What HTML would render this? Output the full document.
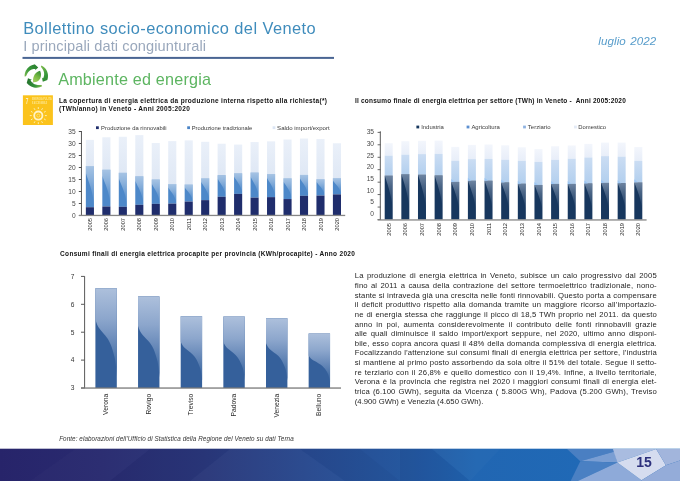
<!DOCTYPE html>
<html lang="it">
<head>
<meta charset="utf-8">
<title>Bollettino socio-economico del Veneto - Ambiente ed energia</title>
<style>
html,body{margin:0;padding:0;background:#fff;}
body{width:680px;height:481px;overflow:hidden;font-family:"Liberation Sans",sans-serif;}
#page{position:relative;width:680px;height:481px;overflow:hidden;background:transparent;will-change:transform;filter:brightness(1.0001);}
#page svg{position:absolute;left:0;top:0;}
svg text{font-family:"Liberation Sans",sans-serif;}
.t{position:absolute;white-space:nowrap;line-height:1;}
#title{left:23.2px;top:19.5px;font-size:16.4px;color:#3f8cbc;letter-spacing:0.43px;}
#subtitle{left:23.3px;top:39.2px;font-size:14.6px;color:#9aa8bc;letter-spacing:0.09px;}
#date{left:598.3px;top:35.2px;font-size:11.6px;font-style:italic;color:#589dcb;letter-spacing:0.08px;word-spacing:1px;}
#section{left:58.2px;top:71px;font-size:16.2px;color:#5db561;letter-spacing:0.19px;}
.ct{font-size:6.5px;font-weight:700;color:#111;line-height:7.9px;white-space:nowrap;position:absolute;}
#ct1{left:59px;top:96.6px;letter-spacing:0.32px;}
#ct2{left:355px;top:96.7px;letter-spacing:0.21px;}
#ct3{left:60.1px;top:249.5px;letter-spacing:0.31px;}
#fonte{left:59.2px;top:436.1px;font-size:6.3px;font-style:italic;color:#333;letter-spacing:0.08px;}
#para{position:absolute;left:354.8px;top:271.4px;width:302px;letter-spacing:0.12px;font-size:7.7px;line-height:9.64px;color:#1f1f1f;}
#para .ln{text-align:justify;text-align-last:justify;white-space:nowrap;height:9.64px;}
#para .ln.last{text-align-last:left;letter-spacing:0.01px;}
#pnum{left:636.2px;top:454.6px;font-size:14px;font-weight:700;color:#2b2f7c;letter-spacing:0.1px;}
</style>
</head>
<body>
<div id="page">
<svg width="680" height="481" viewBox="0 0 680 481">
<defs>
<linearGradient id="gTrad" x1="0" y1="0" x2="0" y2="1"><stop offset="0" stop-color="#9dbbe0"/><stop offset="0.45" stop-color="#5e92cd"/><stop offset="1" stop-color="#4a84c6"/></linearGradient>
<linearGradient id="gGloss1" x1="0" y1="0" x2="0" y2="1"><stop offset="0" stop-color="#fff" stop-opacity="0.5"/><stop offset="0.3" stop-color="#fff" stop-opacity="0.36"/><stop offset="0.65" stop-color="#fff" stop-opacity="0.17"/><stop offset="1" stop-color="#fff" stop-opacity="0.04"/></linearGradient>
<linearGradient id="gSaldo" x1="0" y1="0" x2="0" y2="1"><stop offset="0" stop-color="#eaf0f9"/><stop offset="1" stop-color="#dfe8f5"/></linearGradient>
<linearGradient id="gTerz" x1="0" y1="0" x2="0" y2="1"><stop offset="0" stop-color="#cbddf3"/><stop offset="1" stop-color="#b2cfee"/></linearGradient>
<linearGradient id="gGloss2" x1="0" y1="0" x2="0" y2="1"><stop offset="0" stop-color="#c4d2e6" stop-opacity="0.5"/><stop offset="0.3" stop-color="#c4d2e6" stop-opacity="0.3"/><stop offset="0.7" stop-color="#c4d2e6" stop-opacity="0.12"/><stop offset="1" stop-color="#c4d2e6" stop-opacity="0.0"/></linearGradient>
<linearGradient id="gDom" x1="0" y1="0" x2="0" y2="1"><stop offset="0" stop-color="#f3f6fc"/><stop offset="1" stop-color="#e8eef9"/></linearGradient>
<linearGradient id="gGloss3" x1="0" y1="0" x2="0" y2="1"><stop offset="0" stop-color="#adc0dc"/><stop offset="0.35" stop-color="#8ca6cc"/><stop offset="0.6" stop-color="#6a8bba"/><stop offset="0.8" stop-color="#4e76ab"/><stop offset="1" stop-color="#3a649e"/></linearGradient>
<linearGradient id="gFoot" x1="0" y1="0" x2="1" y2="0"><stop offset="0" stop-color="#27246a"/><stop offset="0.15" stop-color="#292b70"/><stop offset="0.3" stop-color="#2a387a"/><stop offset="0.45" stop-color="#28498e"/><stop offset="0.6" stop-color="#25589f"/><stop offset="0.7" stop-color="#2166b2"/><stop offset="0.85" stop-color="#2069b6"/><stop offset="1" stop-color="#2069b6"/></linearGradient>
<radialGradient id="gLeaf" cx="0.5" cy="0.5" r="0.6"><stop offset="0" stop-color="#a5d66a"/><stop offset="1" stop-color="#3f9a3a"/></radialGradient>
</defs>
<rect x="22.5" y="56.9" width="311.5" height="2" fill="#4a6593"/>
<g id="eco">
<linearGradient id="gA1" gradientUnits="userSpaceOnUse" x1="24" y1="78" x2="38" y2="64"><stop offset="0" stop-color="#8cc152"/><stop offset="0.45" stop-color="#3b9a3c"/><stop offset="1" stop-color="#257a2c"/></linearGradient>
<linearGradient id="gA2" gradientUnits="userSpaceOnUse" x1="41" y1="66" x2="45" y2="84"><stop offset="0" stop-color="#7dba4c"/><stop offset="0.45" stop-color="#3b9a3c"/><stop offset="1" stop-color="#2a8430"/></linearGradient>
<linearGradient id="gA3" gradientUnits="userSpaceOnUse" x1="42" y1="85" x2="26" y2="80"><stop offset="0" stop-color="#7dba4c"/><stop offset="0.4" stop-color="#32913a"/><stop offset="1" stop-color="#236f2b"/></linearGradient>
<linearGradient id="gLeaf2" gradientUnits="userSpaceOnUse" x1="33" y1="82" x2="40.5" y2="71"><stop offset="0" stop-color="#a9d564"/><stop offset="0.5" stop-color="#78b943"/><stop offset="1" stop-color="#2e8a34"/></linearGradient>
<path d="M24.61 76.41 L24.64 74.98 L24.86 73.57 L25.24 72.19 L25.78 70.87 L26.49 69.63 L27.34 68.48 L28.32 67.44 L29.42 66.53 L30.63 65.77 L31.92 65.15 L33.27 64.7 L34.67 64.41 L34.15 63.79 L38.23 67.62 L35.09 70.33 L35.31 68.97 L34.41 68.95 L33.49 69.05 L32.57 69.26 L31.65 69.6 L30.75 70.05 L29.89 70.62 L29.08 71.31 L28.33 72.11 L27.65 73.02 L27.05 74.03 L26.52 75.14 L25.91 76.36 Z" fill="url(#gA1)"/>
<path d="M41.43 65.48 L42.67 66.19 L43.82 67.04 L44.86 68.02 L45.77 69.12 L46.53 70.33 L47.15 71.62 L47.6 72.97 L47.89 74.37 L48 75.8 L47.94 77.22 L47.7 78.63 L47.29 80 L48.09 79.83 L42.79 81.64 L41.88 77.6 L42.97 78.43 L43.41 77.64 L43.75 76.78 L44 75.87 L44.14 74.9 L44.16 73.89 L44.06 72.87 L43.83 71.82 L43.48 70.79 L42.99 69.76 L42.38 68.75 L41.65 67.76 L40.86 66.65 Z" fill="url(#gA2)"/>
<path d="M42.15 86.13 L40.87 86.77 L39.52 87.25 L38.13 87.56 L36.71 87.69 L35.28 87.66 L33.87 87.44 L32.49 87.06 L31.17 86.52 L29.93 85.81 L28.78 84.96 L27.74 83.98 L26.83 82.88 L26.53 83.63 L27.99 78.23 L31.86 79.73 L30.56 80.17 L30.96 80.98 L31.48 81.74 L32.11 82.46 L32.83 83.11 L33.65 83.69 L34.56 84.19 L35.55 84.58 L36.61 84.87 L37.73 85.04 L38.91 85.09 L40.14 85.04 L41.5 85.01 Z" fill="url(#gA3)"/>
<path d="M33.1 82.1 C32.3 75.6 36.2 71.6 40.1 70.7 C42.6 76.4 39.8 82.6 33.1 82.1 Z" fill="url(#gLeaf2)"/>
<path d="M33.6 81.6 L32.2 83.3" stroke="#8a9a7a" stroke-width="0.7" fill="none"/>
</g>
<g id="sdg7">
<rect x="22.9" y="95.3" width="30" height="29.7" fill="#fbc31c"/>
<text x="25.7" y="104.4" font-size="8.4" font-weight="700" fill="#fdf0c2" textLength="2.6" lengthAdjust="spacingAndGlyphs">7</text>
<text x="32" y="100.4" font-size="2.8" font-weight="700" fill="#fde58c" textLength="19.6" lengthAdjust="spacingAndGlyphs">ENERGIA PULITA</text>
<text x="32" y="104.1" font-size="2.8" font-weight="700" fill="#fde58c" textLength="15" lengthAdjust="spacingAndGlyphs">E ACCESSIBILE</text>
<circle cx="38.3" cy="115.6" r="4.1" fill="none" stroke="#fff3c6" stroke-width="1.8"/>
<circle cx="38.3" cy="115.6" r="1.5" fill="none" stroke="#fde9a0" stroke-width="0.6"/>
<line x1="44.9" y1="115.6" x2="46.8" y2="115.6" stroke="#fdeeb4" stroke-width="1"/>
<line x1="44.02" y1="118.9" x2="45.66" y2="119.85" stroke="#fdeeb4" stroke-width="1"/>
<line x1="41.6" y1="121.32" x2="42.55" y2="122.96" stroke="#fdeeb4" stroke-width="1"/>
<line x1="38.3" y1="122.2" x2="38.3" y2="124.1" stroke="#fdeeb4" stroke-width="1"/>
<line x1="35" y1="121.32" x2="34.05" y2="122.96" stroke="#fdeeb4" stroke-width="1"/>
<line x1="32.58" y1="118.9" x2="30.94" y2="119.85" stroke="#fdeeb4" stroke-width="1"/>
<line x1="31.7" y1="115.6" x2="29.8" y2="115.6" stroke="#fdeeb4" stroke-width="1"/>
<line x1="32.58" y1="112.3" x2="30.94" y2="111.35" stroke="#fdeeb4" stroke-width="1"/>
<line x1="35" y1="109.88" x2="34.05" y2="108.24" stroke="#fdeeb4" stroke-width="1"/>
<line x1="38.3" y1="109" x2="38.3" y2="107.1" stroke="#fdeeb4" stroke-width="1"/>
<line x1="41.6" y1="109.88" x2="42.55" y2="108.24" stroke="#fdeeb4" stroke-width="1"/>
<line x1="44.02" y1="112.3" x2="45.66" y2="111.35" stroke="#fdeeb4" stroke-width="1"/>
</g>
<g id="chart1" font-size="5.7" fill="#333">
<rect x="96" y="126.3" width="2.8" height="2.8" fill="#1f2d6c"/>
<text x="101.1" y="129.8" font-size="5.6" fill="#3a3a3a" textLength="65.5" lengthAdjust="spacingAndGlyphs">Produzione da rinnovabili</text>
<rect x="187.2" y="126.3" width="2.8" height="2.8" fill="#4a84c6"/>
<text x="191.7" y="129.8" font-size="5.6" fill="#3a3a3a" textLength="60.6" lengthAdjust="spacingAndGlyphs">Produzione tradizionale</text>
<rect x="272.6" y="126.3" width="2.8" height="2.8" fill="#dbe5f4"/>
<text x="277.1" y="129.8" font-size="5.6" fill="#3a3a3a" textLength="52.5" lengthAdjust="spacingAndGlyphs">Saldo import/export</text>
<rect x="85.85" y="139.9" width="8.1" height="26.16" fill="url(#gSaldo)"/>
<rect x="85.85" y="166.06" width="8.1" height="41.16" fill="#4d88c9"/>
<path d="M85.85 166.06 L93.95 166.06 L93.95 203.93 C92.33 188.7 88.68 182.52 85.85 173.06 Z" fill="url(#gGloss1)"/>
<rect x="85.85" y="207.22" width="8.1" height="8.28" fill="#1f2d6c"/>
<rect x="102.32" y="137.26" width="8.1" height="32.47" fill="url(#gSaldo)"/>
<rect x="102.32" y="169.73" width="8.1" height="36.77" fill="#4d88c9"/>
<path d="M102.32 169.73 L110.42 169.73 L110.42 203.56 C108.8 189.95 105.15 184.44 102.32 175.98 Z" fill="url(#gGloss1)"/>
<rect x="102.32" y="206.5" width="8.1" height="9" fill="#1f2d6c"/>
<rect x="118.79" y="136.78" width="8.1" height="36" fill="url(#gSaldo)"/>
<rect x="118.79" y="172.78" width="8.1" height="34.03" fill="#4d88c9"/>
<path d="M118.79 172.78 L126.89 172.78 L126.89 204.09 C125.27 191.5 121.62 186.39 118.79 178.57 Z" fill="url(#gGloss1)"/>
<rect x="118.79" y="206.81" width="8.1" height="8.69" fill="#1f2d6c"/>
<rect x="135.26" y="135.1" width="8.1" height="41.16" fill="url(#gSaldo)"/>
<rect x="135.26" y="176.26" width="8.1" height="28.56" fill="#4d88c9"/>
<path d="M135.26 176.26 L143.36 176.26 L143.36 202.54 C141.74 191.97 138.09 187.68 135.26 181.12 Z" fill="url(#gGloss1)"/>
<rect x="135.26" y="204.82" width="8.1" height="10.68" fill="#1f2d6c"/>
<rect x="151.73" y="143.02" width="8.1" height="36.48" fill="url(#gSaldo)"/>
<rect x="151.73" y="179.5" width="8.1" height="24.36" fill="#4d88c9"/>
<path d="M151.73 179.5 L159.83 179.5 L159.83 201.91 C158.21 192.9 154.56 189.24 151.73 183.64 Z" fill="url(#gGloss1)"/>
<rect x="151.73" y="203.86" width="8.1" height="11.64" fill="#1f2d6c"/>
<rect x="168.2" y="141.1" width="8.1" height="42.96" fill="url(#gSaldo)"/>
<rect x="168.2" y="184.06" width="8.1" height="19.56" fill="#4d88c9"/>
<path d="M168.2 184.06 L176.3 184.06 L176.3 202.06 C174.68 194.82 171.03 191.88 168.2 187.39 Z" fill="url(#gGloss1)"/>
<rect x="168.2" y="203.62" width="8.1" height="11.88" fill="#1f2d6c"/>
<rect x="184.67" y="140.38" width="8.1" height="44.16" fill="url(#gSaldo)"/>
<rect x="184.67" y="184.54" width="8.1" height="17.04" fill="#4d88c9"/>
<path d="M184.67 184.54 L192.77 184.54 L192.77 200.22 C191.15 193.91 187.5 191.36 184.67 187.44 Z" fill="url(#gGloss1)"/>
<rect x="184.67" y="201.58" width="8.1" height="13.92" fill="#1f2d6c"/>
<rect x="201.14" y="141.82" width="8.1" height="36.48" fill="url(#gSaldo)"/>
<rect x="201.14" y="178.3" width="8.1" height="21.84" fill="#4d88c9"/>
<path d="M201.14 178.3 L209.24 178.3 L209.24 198.39 C207.62 190.31 203.97 187.04 201.14 182.01 Z" fill="url(#gGloss1)"/>
<rect x="201.14" y="200.14" width="8.1" height="15.36" fill="#1f2d6c"/>
<rect x="217.61" y="143.74" width="8.1" height="31.44" fill="url(#gSaldo)"/>
<rect x="217.61" y="175.18" width="8.1" height="21.6" fill="#4d88c9"/>
<path d="M217.61 175.18 L225.71 175.18 L225.71 195.05 C224.09 187.06 220.44 183.82 217.61 178.85 Z" fill="url(#gGloss1)"/>
<rect x="217.61" y="196.78" width="8.1" height="18.72" fill="#1f2d6c"/>
<rect x="234.08" y="144.58" width="8.1" height="28.68" fill="url(#gSaldo)"/>
<rect x="234.08" y="173.26" width="8.1" height="20.64" fill="#4d88c9"/>
<path d="M234.08 173.26 L242.18 173.26 L242.18 192.25 C240.56 184.61 236.91 181.52 234.08 176.77 Z" fill="url(#gGloss1)"/>
<rect x="234.08" y="193.9" width="8.1" height="21.6" fill="#1f2d6c"/>
<rect x="250.55" y="142.06" width="8.1" height="30.48" fill="url(#gSaldo)"/>
<rect x="250.55" y="172.54" width="8.1" height="25.08" fill="#4d88c9"/>
<path d="M250.55 172.54 L258.65 172.54 L258.65 195.61 C257.03 186.33 253.38 182.57 250.55 176.8 Z" fill="url(#gGloss1)"/>
<rect x="250.55" y="197.62" width="8.1" height="17.88" fill="#1f2d6c"/>
<rect x="267.02" y="141.34" width="8.1" height="32.88" fill="url(#gSaldo)"/>
<rect x="267.02" y="174.22" width="8.1" height="22.92" fill="#4d88c9"/>
<path d="M267.02 174.22 L275.12 174.22 L275.12 195.31 C273.5 186.83 269.85 183.39 267.02 178.12 Z" fill="url(#gGloss1)"/>
<rect x="267.02" y="197.14" width="8.1" height="18.36" fill="#1f2d6c"/>
<rect x="283.49" y="139.54" width="8.1" height="38.76" fill="url(#gSaldo)"/>
<rect x="283.49" y="178.3" width="8.1" height="20.76" fill="#4d88c9"/>
<path d="M283.49 178.3 L291.59 178.3 L291.59 197.4 C289.97 189.72 286.32 186.6 283.49 181.83 Z" fill="url(#gGloss1)"/>
<rect x="283.49" y="199.06" width="8.1" height="16.44" fill="#1f2d6c"/>
<rect x="299.96" y="138.53" width="8.1" height="36.41" fill="url(#gSaldo)"/>
<rect x="299.96" y="174.94" width="8.1" height="20.88" fill="#4d88c9"/>
<path d="M299.96 174.94 L308.06 174.94 L308.06 194.15 C306.44 186.42 302.79 183.29 299.96 178.49 Z" fill="url(#gGloss1)"/>
<rect x="299.96" y="195.82" width="8.1" height="19.68" fill="#1f2d6c"/>
<rect x="316.43" y="139.04" width="8.1" height="40.22" fill="url(#gSaldo)"/>
<rect x="316.43" y="179.26" width="8.1" height="16.32" fill="#4d88c9"/>
<path d="M316.43 179.26 L324.53 179.26 L324.53 194.27 C322.91 188.24 319.26 185.79 316.43 182.03 Z" fill="url(#gGloss1)"/>
<rect x="316.43" y="195.58" width="8.1" height="19.92" fill="#1f2d6c"/>
<rect x="332.9" y="143.26" width="8.1" height="34.8" fill="url(#gSaldo)"/>
<rect x="332.9" y="178.06" width="8.1" height="16.32" fill="#4d88c9"/>
<path d="M332.9 178.06 L341 178.06 L341 193.07 C339.38 187.04 335.73 184.59 332.9 180.83 Z" fill="url(#gGloss1)"/>
<rect x="332.9" y="194.38" width="8.1" height="21.12" fill="#1f2d6c"/>
<rect x="80.95" y="131" width="1" height="85" fill="#555"/>
<rect x="78.8" y="215" width="2.6" height="1" fill="#4d4d4d"/>
<text x="75.6" y="217.8" text-anchor="end" font-size="6.6" fill="#484848">0</text>
<rect x="78.8" y="203" width="2.6" height="1" fill="#4d4d4d"/>
<text x="75.6" y="205.8" text-anchor="end" font-size="6.6" fill="#484848">5</text>
<rect x="78.8" y="191" width="2.6" height="1" fill="#4d4d4d"/>
<text x="75.6" y="193.8" text-anchor="end" font-size="6.6" fill="#484848">10</text>
<rect x="78.8" y="179" width="2.6" height="1" fill="#4d4d4d"/>
<text x="75.6" y="181.8" text-anchor="end" font-size="6.6" fill="#484848">15</text>
<rect x="78.8" y="167" width="2.6" height="1" fill="#4d4d4d"/>
<text x="75.6" y="169.8" text-anchor="end" font-size="6.6" fill="#484848">20</text>
<rect x="78.8" y="155" width="2.6" height="1" fill="#4d4d4d"/>
<text x="75.6" y="157.8" text-anchor="end" font-size="6.6" fill="#484848">25</text>
<rect x="78.8" y="143" width="2.6" height="1" fill="#4d4d4d"/>
<text x="75.6" y="145.8" text-anchor="end" font-size="6.6" fill="#484848">30</text>
<rect x="78.8" y="131" width="2.6" height="1" fill="#4d4d4d"/>
<text x="75.6" y="133.8" text-anchor="end" font-size="6.6" fill="#484848">35</text>
<rect x="79" y="214.8" width="266.2" height="1.3" fill="#868686"/>
<text transform="translate(91.95 218) rotate(-90)" text-anchor="end" fill="#262626">2005</text>
<text transform="translate(108.42 218) rotate(-90)" text-anchor="end" fill="#262626">2006</text>
<text transform="translate(124.89 218) rotate(-90)" text-anchor="end" fill="#262626">2007</text>
<text transform="translate(141.36 218) rotate(-90)" text-anchor="end" fill="#262626">2008</text>
<text transform="translate(157.83 218) rotate(-90)" text-anchor="end" fill="#262626">2009</text>
<text transform="translate(174.3 218) rotate(-90)" text-anchor="end" fill="#262626">2010</text>
<text transform="translate(190.77 218) rotate(-90)" text-anchor="end" fill="#262626">2011</text>
<text transform="translate(207.24 218) rotate(-90)" text-anchor="end" fill="#262626">2012</text>
<text transform="translate(223.71 218) rotate(-90)" text-anchor="end" fill="#262626">2013</text>
<text transform="translate(240.18 218) rotate(-90)" text-anchor="end" fill="#262626">2014</text>
<text transform="translate(256.65 218) rotate(-90)" text-anchor="end" fill="#262626">2015</text>
<text transform="translate(273.12 218) rotate(-90)" text-anchor="end" fill="#262626">2016</text>
<text transform="translate(289.59 218) rotate(-90)" text-anchor="end" fill="#262626">2017</text>
<text transform="translate(306.06 218) rotate(-90)" text-anchor="end" fill="#262626">2018</text>
<text transform="translate(322.53 218) rotate(-90)" text-anchor="end" fill="#262626">2019</text>
<text transform="translate(339 218) rotate(-90)" text-anchor="end" fill="#262626">2020</text>
</g>
<g id="chart2" font-size="5.7" fill="#333">
<rect x="416.4" y="125.6" width="2.8" height="2.8" fill="#17375e"/>
<text x="421.2" y="128.9" font-size="5.6" fill="#3a3a3a" textLength="22.7" lengthAdjust="spacingAndGlyphs">Industria</text>
<rect x="466.6" y="125.6" width="2.8" height="2.8" fill="#5b8fd0"/>
<text x="471.4" y="128.9" font-size="5.6" fill="#3a3a3a" textLength="28.5" lengthAdjust="spacingAndGlyphs">Agricoltura</text>
<rect x="523.1" y="125.6" width="2.8" height="2.8" fill="#8fb3e2"/>
<text x="527.8" y="128.9" font-size="5.6" fill="#3a3a3a" textLength="22.7" lengthAdjust="spacingAndGlyphs">Terziario</text>
<rect x="574" y="125.6" width="2.8" height="2.8" fill="#e3eaf6"/>
<text x="578.3" y="128.9" font-size="5.6" fill="#3a3a3a" textLength="27.8" lengthAdjust="spacingAndGlyphs">Domestico</text>
<rect x="384.7" y="143.2" width="8.0" height="12.4" fill="url(#gDom)"/>
<rect x="384.7" y="155.6" width="8.0" height="20" fill="url(#gTerz)"/>
<rect x="384.7" y="175.6" width="8.0" height="43.9" fill="#17375e"/>
<path d="M384.7 175.6 L392.7 175.6 L392.7 210.72 C392.3 199.75 389.5 190.09 384.7 175.6 Z" fill="url(#gGloss2)"/>
<rect x="401.34" y="141.2" width="8.0" height="13.4" fill="url(#gDom)"/>
<rect x="401.34" y="154.6" width="8.0" height="19.5" fill="url(#gTerz)"/>
<rect x="401.34" y="174.1" width="8.0" height="45.4" fill="#17375e"/>
<path d="M401.34 174.1 L409.34 174.1 L409.34 210.42 C408.94 199.07 406.14 189.08 401.34 174.1 Z" fill="url(#gGloss2)"/>
<rect x="417.98" y="140.8" width="8.0" height="13.3" fill="url(#gDom)"/>
<rect x="417.98" y="154.1" width="8.0" height="20.6" fill="url(#gTerz)"/>
<rect x="417.98" y="174.7" width="8.0" height="44.8" fill="#17375e"/>
<path d="M417.98 174.7 L425.98 174.7 L425.98 210.54 C425.58 199.34 422.78 189.48 417.98 174.7 Z" fill="url(#gGloss2)"/>
<rect x="434.62" y="140.6" width="8.0" height="13.3" fill="url(#gDom)"/>
<rect x="434.62" y="153.9" width="8.0" height="21.5" fill="url(#gTerz)"/>
<rect x="434.62" y="175.4" width="8.0" height="44.1" fill="#17375e"/>
<path d="M434.62 175.4 L442.62 175.4 L442.62 210.68 C442.22 199.66 439.42 189.95 434.62 175.4 Z" fill="url(#gGloss2)"/>
<rect x="451.26" y="146.9" width="8.0" height="13.8" fill="url(#gDom)"/>
<rect x="451.26" y="160.7" width="8.0" height="21.2" fill="url(#gTerz)"/>
<rect x="451.26" y="181.9" width="8.0" height="37.6" fill="#17375e"/>
<path d="M451.26 181.9 L459.26 181.9 L459.26 211.98 C458.86 202.58 456.06 194.31 451.26 181.9 Z" fill="url(#gGloss2)"/>
<path d="M451.26 178.9 L454.86 181.9 L451.26 181.9 Z" fill="#9cc6f3"/>
<rect x="467.9" y="144.9" width="8.0" height="14.2" fill="url(#gDom)"/>
<rect x="467.9" y="159.1" width="8.0" height="21.6" fill="url(#gTerz)"/>
<rect x="467.9" y="180.7" width="8.0" height="38.8" fill="#17375e"/>
<path d="M467.9 180.7 L475.9 180.7 L475.9 211.74 C475.5 202.04 472.7 193.5 467.9 180.7 Z" fill="url(#gGloss2)"/>
<path d="M467.9 177.7 L471.5 180.7 L467.9 180.7 Z" fill="#9cc6f3"/>
<rect x="484.54" y="144.5" width="8.0" height="14.4" fill="url(#gDom)"/>
<rect x="484.54" y="158.9" width="8.0" height="21.8" fill="url(#gTerz)"/>
<rect x="484.54" y="180.7" width="8.0" height="38.8" fill="#17375e"/>
<path d="M484.54 180.7 L492.54 180.7 L492.54 211.74 C492.14 202.04 489.34 193.5 484.54 180.7 Z" fill="url(#gGloss2)"/>
<path d="M484.54 177.7 L488.14 180.7 L484.54 180.7 Z" fill="#9cc6f3"/>
<rect x="501.18" y="145.3" width="8.0" height="14.4" fill="url(#gDom)"/>
<rect x="501.18" y="159.7" width="8.0" height="22.7" fill="url(#gTerz)"/>
<rect x="501.18" y="182.4" width="8.0" height="37.1" fill="#17375e"/>
<path d="M501.18 182.4 L509.18 182.4 L509.18 212.08 C508.78 202.81 505.98 194.64 501.18 182.4 Z" fill="url(#gGloss2)"/>
<path d="M501.18 179.4 L504.78 182.4 L501.18 182.4 Z" fill="#9cc6f3"/>
<rect x="517.82" y="147.29" width="8.0" height="13.51" fill="url(#gDom)"/>
<rect x="517.82" y="160.8" width="8.0" height="22.87" fill="url(#gTerz)"/>
<rect x="517.82" y="183.67" width="8.0" height="35.83" fill="#17375e"/>
<path d="M517.82 183.67 L525.82 183.67 L525.82 212.33 C525.42 203.38 522.62 195.49 517.82 183.67 Z" fill="url(#gGloss2)"/>
<path d="M517.82 180.67 L521.42 183.67 L517.82 183.67 Z" fill="#9cc6f3"/>
<rect x="534.46" y="149.11" width="8.0" height="12.73" fill="url(#gDom)"/>
<rect x="534.46" y="161.84" width="8.0" height="23.13" fill="url(#gTerz)"/>
<rect x="534.46" y="184.97" width="8.0" height="34.53" fill="#17375e"/>
<path d="M534.46 184.97 L542.46 184.97 L542.46 212.59 C542.06 203.96 539.26 196.36 534.46 184.97 Z" fill="url(#gGloss2)"/>
<path d="M534.46 181.97 L538.06 184.97 L534.46 184.97 Z" fill="#9cc6f3"/>
<rect x="551.1" y="146.25" width="8.0" height="13.51" fill="url(#gDom)"/>
<rect x="551.1" y="159.76" width="8.0" height="24.17" fill="url(#gTerz)"/>
<rect x="551.1" y="183.93" width="8.0" height="35.57" fill="#17375e"/>
<path d="M551.1 183.93 L559.1 183.93 L559.1 212.39 C558.7 203.49 555.9 195.67 551.1 183.93 Z" fill="url(#gGloss2)"/>
<path d="M551.1 180.93 L554.7 183.93 L551.1 183.93 Z" fill="#9cc6f3"/>
<rect x="567.74" y="145.47" width="8.0" height="13.25" fill="url(#gDom)"/>
<rect x="567.74" y="158.72" width="8.0" height="25.19" fill="url(#gTerz)"/>
<rect x="567.74" y="183.91" width="8.0" height="35.59" fill="#17375e"/>
<path d="M567.74 183.91 L575.74 183.91 L575.74 212.38 C575.34 203.48 572.54 195.65 567.74 183.91 Z" fill="url(#gGloss2)"/>
<path d="M567.74 180.91 L571.34 183.91 L567.74 183.91 Z" fill="#9cc6f3"/>
<rect x="584.38" y="143.91" width="8.0" height="13.51" fill="url(#gDom)"/>
<rect x="584.38" y="157.42" width="8.0" height="25.97" fill="url(#gTerz)"/>
<rect x="584.38" y="183.39" width="8.0" height="36.11" fill="#17375e"/>
<path d="M584.38 183.39 L592.38 183.39 L592.38 212.28 C591.98 203.25 589.18 195.31 584.38 183.39 Z" fill="url(#gGloss2)"/>
<path d="M584.38 180.39 L587.98 183.39 L584.38 183.39 Z" fill="#9cc6f3"/>
<rect x="601.02" y="142.61" width="8.0" height="13.51" fill="url(#gDom)"/>
<rect x="601.02" y="156.12" width="8.0" height="26.75" fill="url(#gTerz)"/>
<rect x="601.02" y="182.87" width="8.0" height="36.63" fill="#17375e"/>
<path d="M601.02 182.87 L609.02 182.87 L609.02 212.17 C608.62 203.02 605.82 194.96 601.02 182.87 Z" fill="url(#gGloss2)"/>
<path d="M601.02 179.87 L604.62 182.87 L601.02 182.87 Z" fill="#9cc6f3"/>
<rect x="617.66" y="142.61" width="8.0" height="14.03" fill="url(#gDom)"/>
<rect x="617.66" y="156.64" width="8.0" height="26.49" fill="url(#gTerz)"/>
<rect x="617.66" y="183.13" width="8.0" height="36.37" fill="#17375e"/>
<path d="M617.66 183.13 L625.66 183.13 L625.66 212.23 C625.26 203.13 622.46 195.13 617.66 183.13 Z" fill="url(#gGloss2)"/>
<path d="M617.66 180.13 L621.26 183.13 L617.66 183.13 Z" fill="#9cc6f3"/>
<rect x="634.3" y="147.03" width="8.0" height="13.77" fill="url(#gDom)"/>
<rect x="634.3" y="160.8" width="8.0" height="21.57" fill="url(#gTerz)"/>
<rect x="634.3" y="182.37" width="8.0" height="37.13" fill="#17375e"/>
<path d="M634.3 182.37 L642.3 182.37 L642.3 212.07 C641.9 202.79 639.1 194.62 634.3 182.37 Z" fill="url(#gGloss2)"/>
<path d="M634.3 179.37 L637.9 182.37 L634.3 182.37 Z" fill="#9cc6f3"/>
<rect x="379.8" y="131.3" width="1" height="88.5" fill="#595959"/>
<rect x="377.6" y="219.05" width="3" height="0.9" fill="#595959"/>
<text x="374" y="215.95" text-anchor="end" font-size="6.6" fill="#484848">0</text>
<rect x="377.6" y="206.6" width="3" height="0.9" fill="#595959"/>
<text x="374" y="204.27" text-anchor="end" font-size="6.6" fill="#484848">5</text>
<rect x="377.6" y="194.15" width="3" height="0.9" fill="#595959"/>
<text x="374" y="192.59" text-anchor="end" font-size="6.6" fill="#484848">10</text>
<rect x="377.6" y="181.7" width="3" height="0.9" fill="#595959"/>
<text x="374" y="180.91" text-anchor="end" font-size="6.6" fill="#484848">15</text>
<rect x="377.6" y="169.25" width="3" height="0.9" fill="#595959"/>
<text x="374" y="169.23" text-anchor="end" font-size="6.6" fill="#484848">20</text>
<rect x="377.6" y="156.8" width="3" height="0.9" fill="#595959"/>
<text x="374" y="157.55" text-anchor="end" font-size="6.6" fill="#484848">25</text>
<rect x="377.6" y="144.35" width="3" height="0.9" fill="#595959"/>
<text x="374" y="145.87" text-anchor="end" font-size="6.6" fill="#484848">30</text>
<rect x="377.6" y="131.9" width="3" height="0.9" fill="#595959"/>
<text x="374" y="134.19" text-anchor="end" font-size="6.6" fill="#484848">35</text>
<rect x="377.6" y="219.3" width="269" height="1.3" fill="#868686"/>
<text transform="translate(390.75 223) rotate(-90)" text-anchor="end" fill="#262626">2005</text>
<text transform="translate(407.39 223) rotate(-90)" text-anchor="end" fill="#262626">2006</text>
<text transform="translate(424.03 223) rotate(-90)" text-anchor="end" fill="#262626">2007</text>
<text transform="translate(440.67 223) rotate(-90)" text-anchor="end" fill="#262626">2008</text>
<text transform="translate(457.31 223) rotate(-90)" text-anchor="end" fill="#262626">2009</text>
<text transform="translate(473.95 223) rotate(-90)" text-anchor="end" fill="#262626">2010</text>
<text transform="translate(490.59 223) rotate(-90)" text-anchor="end" fill="#262626">2011</text>
<text transform="translate(507.23 223) rotate(-90)" text-anchor="end" fill="#262626">2012</text>
<text transform="translate(523.87 223) rotate(-90)" text-anchor="end" fill="#262626">2013</text>
<text transform="translate(540.51 223) rotate(-90)" text-anchor="end" fill="#262626">2014</text>
<text transform="translate(557.15 223) rotate(-90)" text-anchor="end" fill="#262626">2015</text>
<text transform="translate(573.79 223) rotate(-90)" text-anchor="end" fill="#262626">2016</text>
<text transform="translate(590.43 223) rotate(-90)" text-anchor="end" fill="#262626">2017</text>
<text transform="translate(607.07 223) rotate(-90)" text-anchor="end" fill="#262626">2018</text>
<text transform="translate(623.71 223) rotate(-90)" text-anchor="end" fill="#262626">2019</text>
<text transform="translate(640.35 223) rotate(-90)" text-anchor="end" fill="#262626">2020</text>
</g>
<g id="chart3" font-size="6.2" fill="#333">
<rect x="95.4" y="288.2" width="21.4" height="99.8" fill="#35609b"/>
<path d="M95.4 288.2 L116.8 288.2 L116.8 376.33 L116.8 376.33 Q115.62 361.57 114.93 358.66 Q114.23 355.74 113.38 352.65 Q112.52 349.56 111.72 347.16 Q110.92 344.76 109.36 341.67 Q107.81 338.58 105.46 335.83 Q103.1 333.09 101.39 331.03 Q99.68 328.97 98.5 327.18 Q97.33 325.4 96.36 322.38 L95.4 319.36 Z" fill="url(#gGloss3)"/>
<rect x="138.05" y="296.4" width="21.4" height="91.6" fill="#35609b"/>
<path d="M138.05 296.4 L159.45 296.4 L159.45 377.45 L159.45 377.45 Q158.27 364.1 157.58 361.46 Q156.88 358.82 156.03 356.03 Q155.17 353.24 154.37 351.06 Q153.56 348.89 152.01 346.1 Q150.46 343.3 148.11 340.82 Q145.75 338.34 144.04 336.47 Q142.33 334.61 141.15 333 Q139.98 331.38 139.01 328.65 L138.05 325.92 Z" fill="url(#gGloss3)"/>
<rect x="180.7" y="316.2" width="21.4" height="71.8" fill="#35609b"/>
<path d="M180.7 316.2 L202.1 316.2 L202.1 380.14 L202.1 380.14 Q200.92 370.2 200.23 368.23 Q199.53 366.27 198.68 364.19 Q197.82 362.11 197.02 360.49 Q196.21 358.87 194.66 356.79 Q193.11 354.71 190.76 352.86 Q188.4 351.01 186.69 349.62 Q184.98 348.23 183.8 347.03 Q182.63 345.83 181.66 343.79 L180.7 341.76 Z" fill="url(#gGloss3)"/>
<rect x="223.35" y="316.5" width="21.4" height="71.5" fill="#35609b"/>
<path d="M223.35 316.5 L244.75 316.5 L244.75 380.18 L244.75 380.18 Q243.57 370.29 242.88 368.34 Q242.18 366.38 241.33 364.31 Q240.47 362.24 239.67 360.63 Q238.86 359.02 237.31 356.95 Q235.76 354.88 233.41 353.04 Q231.05 351.2 229.34 349.82 Q227.63 348.44 226.45 347.24 Q225.28 346.05 224.31 344.02 L223.35 342 Z" fill="url(#gGloss3)"/>
<rect x="266" y="318.2" width="21.4" height="69.8" fill="#35609b"/>
<path d="M266 318.2 L287.4 318.2 L287.4 380.41 L287.4 380.41 Q286.22 370.81 285.53 368.92 Q284.83 367.02 283.98 365.01 Q283.12 363 282.32 361.44 Q281.51 359.88 279.96 357.87 Q278.41 355.86 276.06 354.07 Q273.7 352.29 271.99 350.95 Q270.28 349.61 269.1 348.45 Q267.93 347.29 266.96 345.32 L266 343.36 Z" fill="url(#gGloss3)"/>
<rect x="308.65" y="333.5" width="21.4" height="54.5" fill="#35609b"/>
<path d="M308.65 333.5 L330.05 333.5 L330.05 382.49 L330.05 382.49 Q328.87 375.53 328.18 374.15 Q327.48 372.77 326.63 371.31 Q325.77 369.86 324.97 368.72 Q324.16 367.59 322.61 366.13 Q321.06 364.67 318.71 363.38 Q316.35 362.08 314.64 361.11 Q312.93 360.14 311.75 359.29 Q310.58 358.45 309.61 357.03 L308.65 355.6 Z" fill="url(#gGloss3)"/>
<rect x="84.1" y="276.2" width="1" height="112" fill="#595959"/>
<rect x="81" y="387.5" width="3.6" height="1" fill="#595959"/>
<text x="74.4" y="390.3" text-anchor="end" font-size="6.6">3</text>
<rect x="81" y="359.6" width="3.6" height="1" fill="#595959"/>
<text x="74.4" y="362.4" text-anchor="end" font-size="6.6">4</text>
<rect x="81" y="331.7" width="3.6" height="1" fill="#595959"/>
<text x="74.4" y="334.5" text-anchor="end" font-size="6.6">5</text>
<rect x="81" y="303.8" width="3.6" height="1" fill="#595959"/>
<text x="74.4" y="306.6" text-anchor="end" font-size="6.6">6</text>
<rect x="81" y="275.9" width="3.6" height="1" fill="#595959"/>
<text x="74.4" y="278.7" text-anchor="end" font-size="6.6">7</text>
<rect x="81" y="387.4" width="260" height="1.3" fill="#7a7a7a"/>
<text transform="translate(108 393.7) rotate(-90)" text-anchor="end" font-size="6.7" fill="#2b2b2b">Verona</text>
<text transform="translate(150.65 393.7) rotate(-90)" text-anchor="end" font-size="6.7" fill="#2b2b2b">Rovigo</text>
<text transform="translate(193.3 393.7) rotate(-90)" text-anchor="end" font-size="6.7" fill="#2b2b2b">Treviso</text>
<text transform="translate(235.95 393.7) rotate(-90)" text-anchor="end" font-size="6.7" fill="#2b2b2b">Padova</text>
<text transform="translate(278.6 393.7) rotate(-90)" text-anchor="end" font-size="6.7" fill="#2b2b2b">Venezia</text>
<text transform="translate(321.25 393.7) rotate(-90)" text-anchor="end" font-size="6.7" fill="#2b2b2b">Belluno</text>
</g>
<g id="footer">
<rect x="0" y="448.7" width="680" height="32.3" fill="url(#gFoot)"/>
<polygon points="30,481 75,449 150,449 110,481" fill="#ffffff" opacity="0.015"/>
<polygon points="150,449 230,449 190,481 110,481" fill="#000033" opacity="0.04"/>
<polygon points="230,449 300,449 345,481 190,481" fill="#ffffff" opacity="0.018"/>
<polygon points="300,449 360,449 400,481 345,481" fill="#000033" opacity="0.035"/>
<polygon points="400,449 432,449 470,481 400,481" fill="#001a55" opacity="0.08"/>
<polygon points="432,449 500,449 470,481" fill="#ffffff" opacity="0.018"/>
<polygon points="567.06,448.94 612.94,448.94 614.7,451.59 580.29,461.29" fill="#4a7fc2"/>
<polygon points="580.29,461.29 614.7,451.59 617.35,462.53" fill="#7a9ed3"/>
<polygon points="580.29,461.29 617.35,462.53 577.65,481.06 570.59,481.06" fill="#4a80c3"/>
<polygon points="617.35,462.53 641.52,480.17 642.05,481.06 577.65,481.06" fill="#8eaad9"/>
<polygon points="612.94,448.94 656.17,448.94 617.35,462.53" fill="#a9bce0"/>
<polygon points="617.35,462.53 656.17,448.94 665.88,465.18 641.52,480.17" fill="#d5dcef"/>
<polygon points="656.17,448.94 679.99,448.94 679.99,460.41 665.88,465.18" fill="#a2b5dc"/>
<polygon points="665.88,465.18 679.99,460.41 679.99,481.06 642.05,481.06 641.52,480.17" fill="#94acd9"/>
</g>
</svg>
<div class="t" id="title">Bollettino socio-economico del Veneto</div>
<div class="t" id="subtitle">I principali dati congiunturali</div>
<div class="t" id="date">luglio 2022</div>
<div class="t" id="section">Ambiente ed energia</div>
<div class="ct" id="ct1">La copertura di energia elettrica da produzione interna rispetto alla richiesta(*)<br>(TWh/anno) in Veneto - Anni 2005:2020</div>
<div class="ct" id="ct2">Il consumo finale di energia elettrica per settore (TWh) in Veneto -&nbsp; Anni 2005:2020</div>
<div class="ct" id="ct3">Consumi finali di energia elettrica procapite per provincia (KWh/procapite) - Anno 2020</div>
<div id="para">
<div class="ln">La produzione di energia elettrica in Veneto, subisce un calo progressivo dal 2005</div>
<div class="ln">fino al 2011 a causa della contrazione del settore termoelettrico tradizionale, nono-</div>
<div class="ln">stante si intraveda già una crescita nelle fonti rinnovabili. Questo porta a compensare</div>
<div class="ln">il deficit produttivo rispetto alla domanda tramite un maggiore ricorso all’importazio-</div>
<div class="ln">ne di energia stessa che raggiunge il picco di 18,5 TWh proprio nel 2011. da questo</div>
<div class="ln">anno in poi, aumenta considerevolmente il contributo delle fonti rinnobavili grazie</div>
<div class="ln">alle quali diminuisce il saldo import/export seppure, nel 2020, ultimo anno disponi-</div>
<div class="ln">bile, esso copra ancora quasi il 48% della domanda complessiva di energia elettrica.</div>
<div class="ln">Focalizzando l’attenzione sui consumi finali di energia elettrica per settore, l’industria</div>
<div class="ln">si mantiene al primo posto assorbendo da sola oltre il 51% del totale. Segue il setto-</div>
<div class="ln">re terziario con il 26,8% e quello domestico con il 19,4%. Infine, a livello territoriale,</div>
<div class="ln">Verona è la provincia che registra nel 2020 i maggiori consumi finali di energia elet-</div>
<div class="ln">trica (6.100 GWh), seguita da Vicenza ( 5.800G Wh), Padova (5.200 GWh), Treviso</div>
<div class="ln last">(4.900 GWh) e Venezia (4.650 GWh).</div>
</div>
<div class="t" id="fonte">Fonte: elaborazioni dell’Ufficio di Statistica della Regione del Veneto su dati Terna</div>
<div class="t" id="pnum">15</div>
</div>
</body>
</html>
